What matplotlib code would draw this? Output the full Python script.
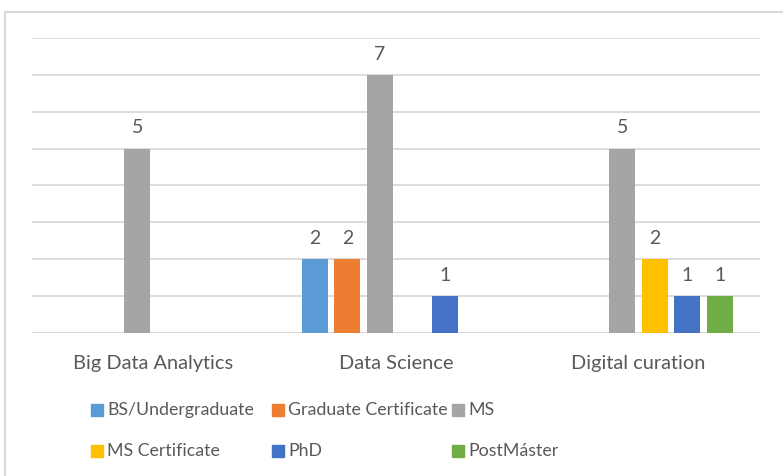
import numpy as np
import matplotlib
matplotlib.use("Agg")
import matplotlib.pyplot as plt
from matplotlib.patches import Rectangle

categories = ["Big Data Analytics", "Data Science", "Digital curation"]
series_names = ["BS/Undergraduate", "Graduate Certificate", "MS",
                "MS Certificate", "PhD", "PostMáster"]
# None = no bar in that cluster
values = {
    "BS/Undergraduate":     [None, 2, None],
    "Graduate Certificate": [None, 2, None],
    "MS":                   [5, 7, 5],
    "MS Certificate":       [None, None, 2],
    "PhD":                  [None, 1, 1],
    "PostMáster":           [None, None, 1],
}
colors = ["#5B9BD5", "#ED7D31", "#A5A5A5", "#FFC000", "#4472C4", "#70AD47"]

TEXT_COL = "#595959"
GRID_COL = "#D9D9D9"
plt.rcParams["font.family"] = ["Lato", "DejaVu Sans"]

W, H = 783, 476
fig = plt.figure(figsize=(W / 100, H / 100), dpi=100, facecolor="white")

# chart-area border (only top/left visible in the crop)
fig.add_artist(Rectangle((4.5 / W, -0.1), 1.2, (H - 11.5) / H + 0.1,
                         transform=fig.transFigure, fill=False,
                         edgecolor="#D9D9D9", linewidth=1.5))

ax = fig.add_axes([32 / W, (H - 333) / H, (760 - 32) / W, (333 - 38) / H])
ax.set_xlim(-0.5, 2.5)
ax.set_ylim(0, 8)
for s in ax.spines.values():
    s.set_visible(False)
ax.set_yticks(np.arange(0, 9))
ax.set_yticklabels([])
ax.tick_params(axis="y", length=0)
ax.grid(axis="y", color=GRID_COL, linewidth=1.3)
ax.set_axisbelow(True)
ax.axhline(0, color=GRID_COL, linewidth=1.5, zorder=1)

step = 0.1335
width = 0.107
x = np.arange(len(categories))
for i, name in enumerate(series_names):
    off = (i - 2.5) * step
    for j, v in enumerate(values[name]):
        if v is None:
            continue
        ax.bar(x[j] + off, v, width=width, color=colors[i], zorder=2)
        ax.annotate(str(v), (x[j] + off, v), xytext=(0, 11),
                    textcoords="offset points", ha="center", va="baseline",
                    color=TEXT_COL, fontsize=14)

ax.set_xticks(x)
ax.set_xticklabels(categories, color=TEXT_COL, fontsize=14.4)
ax.tick_params(axis="x", length=0, pad=15.5)

# legend, 3 equal-width columns like Excel
leg_x = [91, 272, 452]
leg_y = [410, 451]
for i, name in enumerate(series_names):
    px = leg_x[i % 3]
    py = leg_y[i // 3]
    fig.add_artist(Rectangle((px / W, (H - py - 6) / H), 12 / W, 12 / H,
                             transform=fig.transFigure, color=colors[i]))
    fig.text((px + 16) / W, (H - py) / H, name, color=TEXT_COL,
             fontsize=12.8, va="center", ha="left")

fig.savefig("out.png", dpi=100, facecolor="white")
